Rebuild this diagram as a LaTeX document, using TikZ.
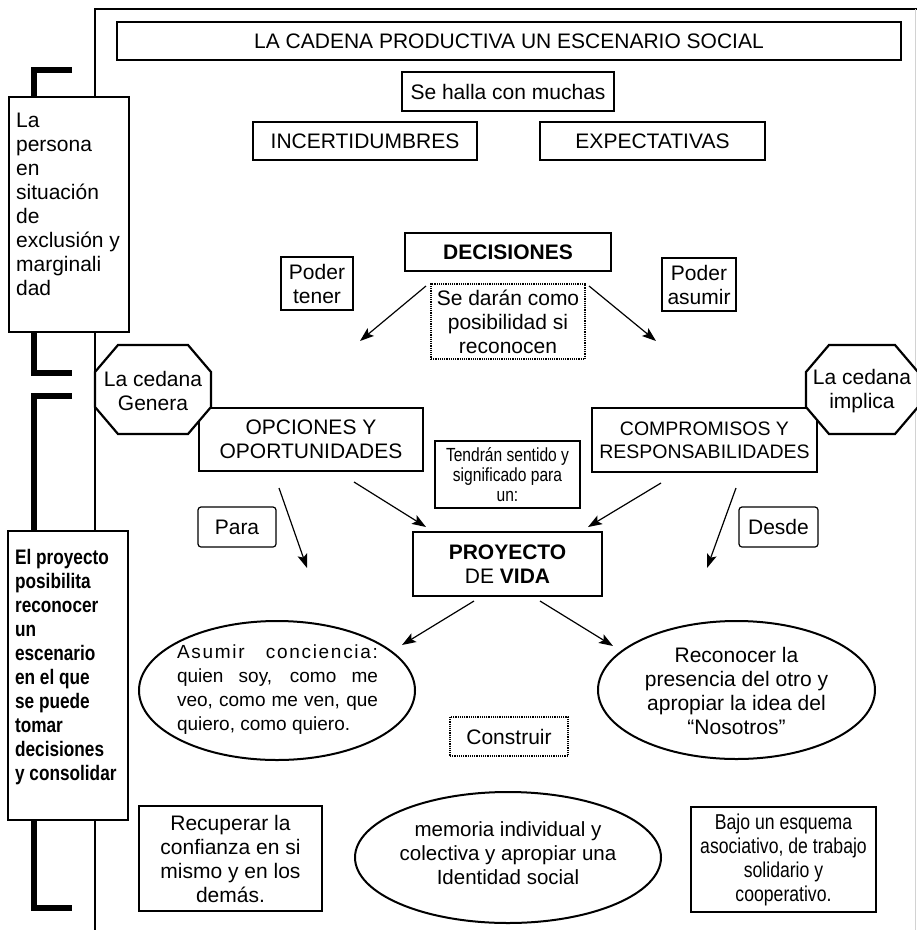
\documentclass[tikz,border=0pt]{standalone}
\usepackage{fontspec}
\setmainfont{Liberation Sans}
\newfontfamily\narrowfont[FakeStretch=0.82]{Liberation Sans}
\usetikzlibrary{shapes.geometric,arrows.meta}
\begin{document}
\begin{tikzpicture}[x=1pt,y=-1pt,
  bx/.style={draw, line width=2.2pt, fill=white, inner sep=0pt, align=center, font=\fontsize{21}{24}\selectfont},
  mbx/.style={bx, line width=1.6pt},
  tbx/.style={bx, line width=1.2pt, rounded corners=3pt},
  dbx/.style={bx, line width=1.2pt, densely dotted},
  octframe/.style={inner sep=0pt, outer sep=0pt},
  octline/.style={draw, line width=2.2pt, fill=white, line join=miter},
  ell/.style={draw, ellipse, line width=2pt, fill=white, inner sep=0pt},
  txt/.style={inner sep=0pt, font=\fontsize{21}{24}\selectfont},
  arr/.style={line width=1.2pt, -{Stealth[length=14pt,width=10pt,inset=3pt]}},
  brk/.style={line width=6pt},
]
\useasboundingbox (0,0) rectangle (917,930);
% frame and brackets
\draw[line width=1.5pt] (95,930) -- (95,9) -- (917,9);
\draw[gray!35, line width=1pt] (915,9) -- (915,930);
\draw[brk] (72,70) -- (34,70) -- (34,373) -- (72,373);
\draw[brk] (72,396) -- (34,396) -- (34,908) -- (72,908);

% top
\node[bx, minimum width=784pt, minimum height=38pt] (title) at (509,41) {LA CADENA PRODUCTIVA UN ESCENARIO SOCIAL};
\node[bx, minimum width=212pt, minimum height=39pt] (halla) at (508,91.5) {Se halla con muchas};
\node[bx, minimum width=224pt, minimum height=38pt] (incert) at (365,141) {INCERTIDUMBRES};
\node[bx, minimum width=225pt, minimum height=38pt] (expect) at (652.5,141) {EXPECTATIVAS};
\node[bx, minimum width=206pt, minimum height=38pt, font=\bfseries\fontsize{21}{24}\selectfont] (decis) at (508,252) {DECISIONES};
\node[dbx, minimum width=154pt, minimum height=75pt] (sedaran) at (508,321.5) {Se darán como\\posibilidad si\\reconocen};
\node[mbx, minimum width=72pt, minimum height=53pt] (podert) at (317,283.5) {Poder\\tener};
\node[mbx, minimum width=74pt, minimum height=53pt] (podera) at (699,284.5) {Poder\\asumir};

% left boxes
\node[bx, minimum width=120pt, minimum height=235pt] (pers) at (69,214.5) {};
\node[txt, anchor=north west, align=left] (perst) at ([xshift=8pt,yshift=-17pt]pers.north west) {La\\persona\\en\\situación\\de\\exclusión y\\marginali\\dad};
\node[bx, minimum width=120pt, minimum height=289pt] (proyb) at (68,675.5) {};
\node[txt, anchor=north west, align=left, font=\narrowfont\bfseries\fontsize{21}{24}\selectfont] (proybt) at ([xshift=8pt,yshift=-19pt]proyb.north west) {El proyecto\\posibilita\\reconocer\\un\\escenario\\en el que\\se puede\\tomar\\decisiones\\y consolidar};

% middle row
\node[bx, minimum width=224pt, minimum height=63pt] (opc) at (311,439.5) {OPCIONES Y\\OPORTUNIDADES};
\node[bx, minimum width=225pt, minimum height=64pt, font=\fontsize{19.5}{23}\selectfont] (comp) at (704.5,440) {COMPROMISOS Y\\RESPONSABILIDADES};

% octagons
\node[octframe, minimum width=116pt, minimum height=89pt] (octL) at (153,389.5) {};
\draw[octline] ([xshift=23pt]octL.north west) -- ([xshift=-23pt]octL.north east)
  -- ([yshift=-27pt]octL.north east) -- ([yshift=27pt]octL.south east)
  -- ([xshift=-23pt]octL.south east) -- ([xshift=23pt]octL.south west)
  -- ([yshift=27pt]octL.south west) -- ([yshift=-27pt]octL.north west) -- cycle;
\node[txt, align=center] (octLt) at (153,391) {La cedana\\Genera};
\node[octframe, minimum width=112pt, minimum height=89pt] (octR) at (862,389.5) {};
\draw[octline] ([xshift=23pt]octR.north west) -- ([xshift=-23pt]octR.north east)
  -- ([yshift=-27pt]octR.north east) -- ([yshift=27pt]octR.south east)
  -- ([xshift=-23pt]octR.south east) -- ([xshift=23pt]octR.south west)
  -- ([yshift=27pt]octR.south west) -- ([yshift=-27pt]octR.north west) -- cycle;
\node[txt, align=center] (octRt) at (862,391) {La cedana\\implica};

\node[mbx, minimum width=145pt, minimum height=67pt, font=\narrowfont\fontsize{19}{20}\selectfont] (tendran) at (507.5,474.5) {Tendrán sentido y\\significado para\\un:};
\node[tbx, minimum width=78pt, minimum height=40pt] (para) at (237,527) {Para};
\node[tbx, minimum width=79pt, minimum height=40pt] (desde) at (778.5,527) {Desde};
\node[bx, minimum width=189pt, minimum height=64pt] (proyecto) at (507.5,564) {\textbf{PROYECTO}\\DE \textbf{VIDA}};

% ellipses
\node[ell, minimum width=276pt, minimum height=139pt] (ellL) at (277,690.5) {};
\node[txt, text width=201pt, align=justify, font=\fontsize{19}{24}\selectfont] (ellLt) at (277.5,690) {{\addfontfeature{LetterSpace=9}Asumir conciencia:}\linebreak quien soy, como me\linebreak veo, como me ven, que\linebreak quiero, como quiero.};
\node[ell, minimum width=277pt, minimum height=138pt] (ellR) at (736.5,690) {};
\node[txt, align=center] (ellRt) at (736.5,691) {Reconocer la\\presencia del otro y\\apropiar la idea del\\“Nosotros”};
\node[dbx, minimum width=118pt, minimum height=39pt] (construir) at (509,736.5) {Construir};

% bottom row
\node[bx, minimum width=183pt, minimum height=105pt] (recup) at (230.5,858.5) {Recuperar la\\confianza en si\\mismo y en los\\demás.};
\node[ell, minimum width=306pt, minimum height=131pt] (ellB) at (508,857.5) {};
\node[txt, align=center, font=\fontsize{20.5}{24}\selectfont] (ellBt) at (508,853) {memoria individual y\\colectiva y apropiar una\\Identidad social};
\node[bx, minimum width=185pt, minimum height=105pt, font=\narrowfont\fontsize{21.5}{24}\selectfont] (bajo) at (783.5,859.5) {Bajo un esquema\\asociativo, de trabajo\\solidario y\\cooperativo.};

% arrows
\coordinate (a1s) at (426,286); \coordinate (a1e) at (360,341);
\coordinate (a2s) at (589,286); \coordinate (a2e) at (656,341);
\coordinate (a3s) at (279,488); \coordinate (a3e) at (307,568);
\coordinate (a4s) at (736,488); \coordinate (a4e) at (707,568);
\coordinate (a5s) at (354,482); \coordinate (a5e) at (426,527);
\coordinate (a6s) at (661,483); \coordinate (a6e) at (588,527);
\coordinate (a7s) at (474,601); \coordinate (a7e) at (402,645);
\coordinate (a8s) at (540,601); \coordinate (a8e) at (613,646);
\draw[arr] (a1s) -- (a1e);
\draw[arr] (a2s) -- (a2e);
\draw[arr] (a3s) -- (a3e);
\draw[arr] (a4s) -- (a4e);
\draw[arr] (a5s) -- (a5e);
\draw[arr] (a6s) -- (a6e);
\draw[arr] (a7s) -- (a7e);
\draw[arr] (a8s) -- (a8e);
\end{tikzpicture}
\end{document}
